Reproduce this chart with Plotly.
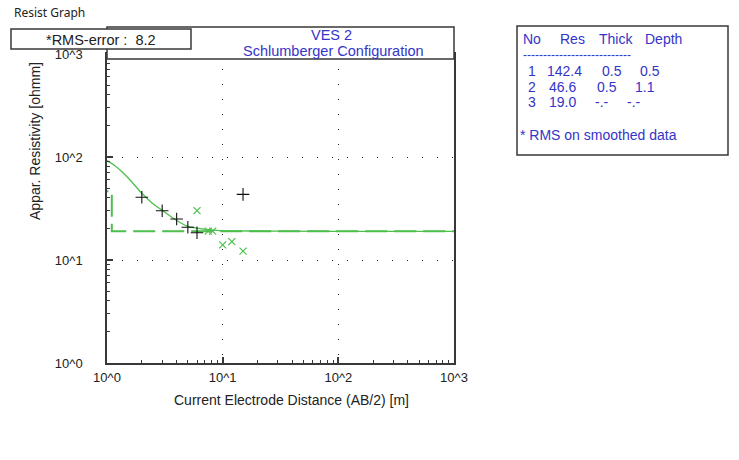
import plotly.graph_objects as go

# Field sounding: AB/2 [m] and apparent resistivity [ohm.m]
ab2_field = [2, 3, 4, 5, 6, 15]
rho_field = [40.6, 30.1, 25.0, 20.8, 18.4, 43.4]

# Smoothed data
ab2_smooth = [6, 7.5, 8.2, 10, 12, 15]
rho_smooth = [30.2, 19.1, 19.1, 14.0, 15.1, 12.2]

# Model response curve
ab2_model = [1.0, 1.15, 1.34, 1.61, 2.0, 2.45, 2.97, 3.74, 4.89, 6.37, 8.88, 25.7, 100, 1000]
rho_model = [92.1, 83.6, 72.3, 58.5, 44.4, 35.8, 30.6, 25.4, 21.4, 20.2, 19.4, 19.1, 19.0, 19.0]

# Layered earth model
layer_no = [1, 2, 3]
layer_res = [142.4, 46.6, 19.0]
layer_thick = [0.5, 0.5, None]
layer_depth = [0.5, 1.1, None]

rms_error = 8.2

axis_tickvals = [1, 10, 100, 1000]
axis_ticktext = ["10^0", "10^1", "10^2", "10^3"]

FONT = "Liberation Sans, Arial, sans-serif"
BLUE = "#3434c8"
GREEN = "#4cbf4c"
FRAME = "#383838"

W, H = 739, 460
L, R, T, B = 107, 454, 54, 363


def px(x):
    return (x - L) / (R - L)


def py(y):
    return (B - y) / (B - T)


# Step curve of the layered model
step_x, step_y = [], []
top = 0.1
for res, dep in zip(layer_res, layer_depth):
    bottom = dep if dep is not None else 1000
    step_x += [top, bottom]
    step_y += [res, res]
    top = bottom

fig = go.Figure()
fig.add_trace(go.Scatter(x=step_x, y=step_y, mode="lines",
                         line=dict(color=GREEN, width=2, dash="22px,7px"),
                         hoverinfo="skip"))
fig.add_trace(go.Scatter(x=ab2_model, y=rho_model, mode="lines",
                         line=dict(color=GREEN, width=1.3, shape="spline")))
fig.add_trace(go.Scatter(x=ab2_smooth, y=rho_smooth, mode="markers",
                         marker=dict(symbol="x-thin", size=7,
                                     line=dict(color=GREEN, width=1.2))))
fig.add_trace(go.Scatter(x=ab2_field, y=rho_field, mode="markers",
                         marker=dict(symbol="cross-thin", size=9,
                                     line=dict(color="#111111", width=1.1))))

minor_vals = [k * 10 ** d for d in range(3) for k in range(2, 10)]

axis_common = dict(
    type="log", range=[0, 3],
    tickmode="array", tickvals=axis_tickvals, ticktext=axis_ticktext,
    ticks="inside", ticklen=6, tickwidth=1.5, tickcolor=FRAME,
    minor=dict(tickmode="array", tickvals=minor_vals, ticks="inside",
               ticklen=3, tickwidth=1, tickcolor=FRAME, showgrid=False),
    showgrid=True, gridcolor="#222222", gridwidth=1, griddash="1px,14px",
    showline=True, linecolor=FRAME, linewidth=1.5, mirror=True,
    tickfont=dict(family=FONT, size=13, color="#222222"),
    zeroline=False,
)

fig.update_xaxes(**axis_common, ticklabelstandoff=2)
fig.update_yaxes(**axis_common, ticklabelstandoff=20)

shapes = [
    # title box above the plot area
    dict(type="rect", xref="paper", yref="paper",
         x0=px(L), x1=px(R), y0=py(59), y1=py(27),
         fillcolor="white", line=dict(color=FRAME, width=1.5), layer="above"),
    # RMS box
    dict(type="rect", xref="paper", yref="paper",
         x0=px(11), x1=px(191), y0=py(49), y1=py(29),
         fillcolor="white", line=dict(color=FRAME, width=1.5), layer="above"),
    # layer table box
    dict(type="rect", xref="paper", yref="paper",
         x0=px(517), x1=px(728), y0=py(155), y1=py(26),
         fillcolor="rgba(0,0,0,0)", line=dict(color=FRAME, width=1.5), layer="above"),
]


def note(text, x, y, color="#222222", size=14, xanchor="left", angle=0, family=FONT):
    return dict(text=text, xref="paper", yref="paper", x=px(x), y=py(y),
                xanchor=xanchor, yanchor="middle", showarrow=False,
                textangle=angle, font=dict(family=family, size=size, color=color))


annotations = [
    note("Resist Graph", 12, 13, size=12, family="Noto Sans, sans-serif"),
    note("*RMS-error :\u00a0\u00a0" + f"{rms_error:.1f}", 101, 40, xanchor="center", size=14.5),
    note("VES 2", 331, 35, color=BLUE, xanchor="center", size=14.5),
    note("Schlumberger Configuration", 333, 51, color=BLUE, xanchor="center", size=14.5),
    note("Current Electrode Distance (AB/2) [m]", 291, 400, xanchor="center"),
    note("Appar. Resistivity [ohmm]", 35, 141, xanchor="center", angle=-90),
    # layer table
    note("No", 521, 39, color=BLUE),
    note("Res", 558, 39, color=BLUE),
    note("Thick", 597, 39, color=BLUE),
    note("Depth", 643, 39, color=BLUE),
    note("-" * 27, 521, 55, color=BLUE, size=12),
    note("* RMS on smoothed data", 518, 135, color=BLUE),
]

row_y = [71, 87, 102]
res_x = [545, 547, 547]
thick_x = [600, 595, 593]
depth_x = [638, 633, 625]
for i, n in enumerate(layer_no):
    t = layer_thick[i]
    d = layer_depth[i]
    annotations.append(note(str(n), 526, row_y[i], color=BLUE))
    annotations.append(note(f"{layer_res[i]:.1f}", res_x[i], row_y[i], color=BLUE))
    annotations.append(note(f"{t:.1f}" if t is not None else "-.-", thick_x[i], row_y[i], color=BLUE))
    annotations.append(note(f"{d:.1f}" if d is not None else "-.-", depth_x[i], row_y[i], color=BLUE))

fig.update_layout(
    width=W, height=H,
    margin=dict(l=L, r=W - R, t=T, b=H - B, pad=0),
    paper_bgcolor="white", plot_bgcolor="white",
    showlegend=False,
    shapes=shapes,
    annotations=annotations,
)

fig.write_html("out.html")
